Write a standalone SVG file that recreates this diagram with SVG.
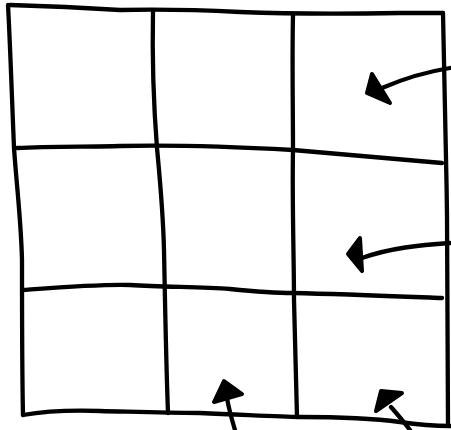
<svg xmlns="http://www.w3.org/2000/svg" width="451" height="430" viewBox="0 0 451 430">
<style>
.ln{fill:none;stroke:#000;stroke-width:4.3;stroke-linecap:round;stroke-linejoin:round}
.hd{fill:#000;stroke:#000;stroke-width:4;stroke-linejoin:round}
</style>
<rect width="451" height="430" fill="#fff"/>
<g id="grid">
<path class="ln" d="M10,5 C50,6 90,8 120,10 C160,9 200,10 240,12 C290,14 350,14 400,13 L443,13"/>
<path class="ln" d="M17,148 C50,146 90,147 120,146 C160,145 220,146 293,150 C340,154 390,158 442,163"/>
<path class="ln" d="M22,290 C50,288 100,284 130,285 C165,287 200,287 230,289 C260,292 280,293 293,293 C340,294 390,296 442,298"/>
<path class="ln" d="M23,415 C40,412 70,410 100,411 C140,412 165,413 200,413 C250,415 280,417 300,417 C340,417 370,418 400,422 C420,425 440,426 451,426"/>
<path class="ln" d="M8,5 C10,40 12,100 14,148 C17,190 21,220 22,260 C22,310 22,370 23,415"/>
<path class="ln" d="M153,11 C152,60 154,110 157,148 C160,180 163,210 164,250 C165,300 166,360 168,413"/>
<path class="ln" d="M293,15 C292,60 293,110 293,150 C292,200 294,260 294,300 C295,350 296,390 297,417"/>
<path class="ln" d="M443,13 C444,60 446,140 447,215 C447,290 448,360 448,426"/>
</g>
<g id="connectors">
<path class="ln" d="M450,68 C425,72 405,78 382,88"/>
<polygon class="hd" points="372,74 367,93 390,103"/>
<path class="ln" d="M450,243 C420,245 390,248 362,258"/>
<polygon class="hd" points="360,238 348,254 362,271"/>
<path class="ln" d="M235,430 C232,420 229,410 227,398"/>
<polygon class="hd" points="224,381 214,402 242,394"/>
<path class="ln" d="M410,430 C404,422 398,415 391,407"/>
<polygon class="hd" points="381,391 402,393 376,411"/>
</g>
</svg>
